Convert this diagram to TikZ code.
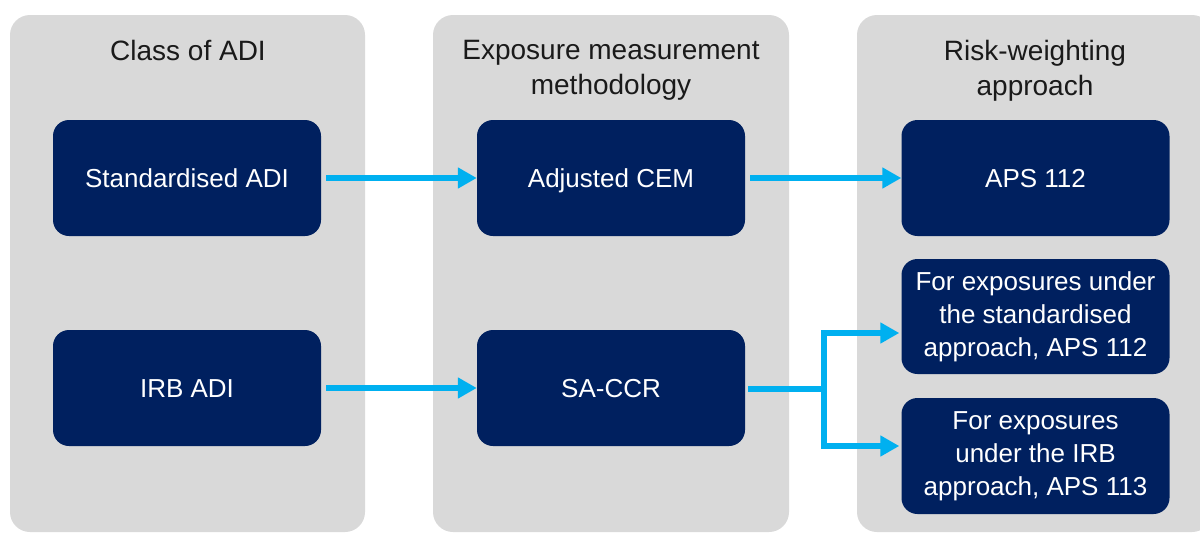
\documentclass[tikz,border=0pt]{standalone}
\usepackage{fontspec}
\setmainfont{Liberation Sans}
\usetikzlibrary{arrows.meta}
\definecolor{panelgray}{HTML}{D9D9D9}
\definecolor{navy}{HTML}{00205F}
\definecolor{arrowblue}{HTML}{00B0F0}
\definecolor{headtext}{HTML}{1A1A1A}
\tikzset{
  panel/.style={fill=panelgray, rounded corners=20pt},
  heading/.style={text=headtext, font=\fontsize{28}{35}\selectfont, align=center, inner sep=0pt, anchor=north},
  navybox/.style={fill=navy, rounded corners=16pt, text=white, font=\fontsize{26}{33}\selectfont,
    minimum width=268pt, minimum height=116pt, inner sep=0pt, align=center},
  onebox/.style={navybox, text height=19pt, text depth=0pt},
  arr/.style={draw=arrowblue, line width=5.5pt, -{Triangle[length=19pt,width=20pt]}},
}
\begin{document}
\begin{tikzpicture}[x=1pt,y=-1pt]
\clip (0,0) rectangle (1200,533);
\fill[white] (0,0) rectangle (1200,533);
% panels
\fill[panel] (10,15) rectangle (365,532);
\fill[panel] (433,15) rectangle (789,532);
\fill[panel] (857,15) rectangle (1212,532);
% headings
\node[heading] (h1) at (188,40) {Class of ADI};
\node[heading] (h2) at (611,40) {Exposure measurement\\methodology};
\node[heading] (h3) at (1035,40) {Risk-weighting\\approach};
% boxes
\node[onebox] (std) at (187,178) {Standardised ADI};
\node[onebox] (irb) at (187,388) {IRB ADI};
\node[onebox] (cem) at (611,178) {Adjusted CEM};
\node[onebox] (sacr) at (611,388) {SA-CCR};
\node[onebox] (aps) at (1035.5,178) {APS 112};
\node[navybox, minimum height=115pt] (rwstd) at (1035.5,316.5) {For exposures under\\the standardised\\approach, APS 112};
\node[navybox] (rwirb) at (1035.5,456) {For exposures\\under the IRB\\approach, APS 113};
% connectors
\draw[arr] ([xshift=5pt]std.east) -- (cem.west);
\draw[arr] ([xshift=5pt]cem.east) -- (aps.west);
\draw[arr] ([xshift=5pt]irb.east) -- (sacr.west);
\coordinate (br) at ([xshift=79pt,yshift=-1pt]sacr.east);
\draw[arr] ([xshift=3pt,yshift=-1pt]sacr.east) -- (br) |- ([xshift=-2pt,yshift=-16.5pt]rwstd.west);
\draw[arr] ([xshift=3pt,yshift=-1pt]sacr.east) -- (br) |- ([xshift=-2pt,yshift=10pt]rwirb.west);
\end{tikzpicture}
\end{document}
